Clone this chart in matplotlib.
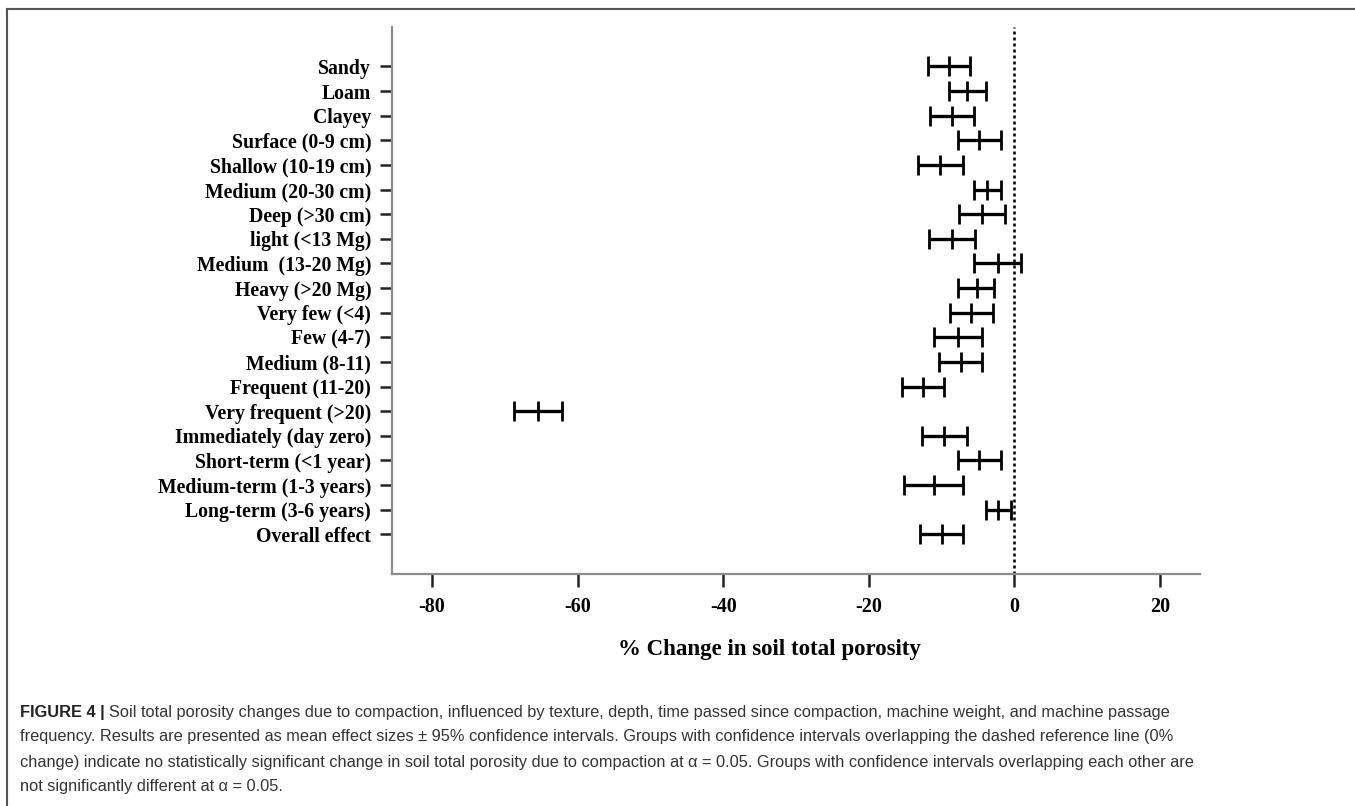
import matplotlib.pyplot as plt
from matplotlib.lines import Line2D

# groups, top to bottom
categories = ['Sandy', 'Loam', 'Clayey', 'Surface (0-9 cm)', 'Shallow (10-19 cm)',
              'Medium (20-30 cm)', 'Deep (>30 cm)', 'light (<13 Mg)', 'Medium  (13-20 Mg)',
              'Heavy (>20 Mg)', 'Very few (<4)', 'Few (4-7)', 'Medium (8-11)',
              'Frequent (11-20)', 'Very frequent (>20)', 'Immediately (day zero)',
              'Short-term (<1 year)', 'Medium-term (1-3 years)', 'Long-term (3-6 years)',
              'Overall effect']
mean = [-9.0, -6.5, -8.6, -4.85, -10.2, -3.75, -4.4, -8.6, -2.3, -5.2,
        -5.9, -7.8, -7.4, -12.6, -65.5, -9.6, -4.8, -11.1, -2.2, -10.0]
lower = [-11.9, -9.0, -11.6, -7.8, -13.2, -5.5, -7.6, -11.7, -5.5, -7.7,
         -8.9, -11.1, -10.3, -15.5, -68.8, -12.7, -7.7, -15.1, -3.85, -12.9]
upper = [-6.1, -3.9, -5.5, -1.8, -7.1, -1.9, -1.3, -5.4, 0.9, -2.75,
         -2.9, -4.5, -4.5, -9.7, -62.2, -6.5, -1.8, -7.1, -0.45, -7.1]
xticks = [-80, -60, -40, -20, 0, 20]

caption = [
    "Soil total porosity changes due to compaction, influenced by texture, depth, time passed since compaction, machine weight, and machine passage",
    "frequency. Results are presented as mean effect sizes \u00b1 95% confidence intervals. Groups with confidence intervals overlapping the dashed reference line (0%",
    "change) indicate no statistically significant change in soil total porosity due to compaction at \u03b1 = 0.05. Groups with confidence intervals overlapping each other are",
    "not significantly different at \u03b1 = 0.05.",
]

serif = ['Liberation Serif', 'DejaVu Serif']
sans = ['Liberation Sans Narrow', 'Liberation Sans', 'DejaVu Sans']

fig = plt.figure(figsize=(13.55, 8.06), dpi=100)
ax = fig.add_axes([0.2893, 0.2882, 0.8856 - 0.2893, 0.9665 - 0.2882])

y = list(range(len(categories)))
err_lo = [m - l for m, l in zip(mean, lower)]
err_hi = [u - m for m, u in zip(mean, upper)]
ax.errorbar(mean, y, xerr=[err_lo, err_hi], fmt='none', ecolor='black',
            elinewidth=2.4, capsize=7, capthick=2.0)
ax.plot(mean, y, linestyle='none', marker='|', markersize=14, markeredgewidth=2.0,
        color='black')

# reference line at 0 % change
ax.axvline(0, color='black', linestyle=(0, (1.2, 1.2)), linewidth=1.8)

ax.set_xlim(-85.5, 25.5)
ax.set_ylim(20.6, -1.6)
ax.set_yticks(y)
ax.set_yticklabels(categories, fontfamily=serif, fontweight='bold', fontsize=14.2)
ax.set_xticks(xticks)
ax.set_xticklabels([str(t) for t in xticks], fontfamily=serif, fontweight='bold',
                   fontsize=14.5)
ax.tick_params(axis='y', length=9, width=1.8, pad=6, color='#222222')
ax.tick_params(axis='x', length=9, width=1.8, pad=8, color='#222222')

for s in ['top', 'right']:
    ax.spines[s].set_visible(False)
for s in ['left', 'bottom']:
    ax.spines[s].set_color('#8c8c8c')
    ax.spines[s].set_linewidth(1.6)

fig.text(769 / 1355, 1 - 650 / 806, '% Change in soil total porosity', ha='center',
         va='center', fontfamily=serif, fontweight='bold', fontsize=16.5)

# caption below the chart
cap_y = [713, 737, 762, 786]
lab = fig.text(20 / 1355, 1 - cap_y[0] / 806, 'FIGURE 4 | ', ha='left', va='center',
               fontfamily=sans, fontweight='bold', fontsize=11.8, color='#222222')
ax.annotate(caption[0], xy=(1, 0.5), xycoords=lab, ha='left', va='center',
            fontfamily=sans, fontsize=11.8, color='#333333', annotation_clip=False)
for line, yy in zip(caption[1:], cap_y[1:]):
    fig.text(20 / 1355, 1 - yy / 806, line, ha='left', va='center',
             fontfamily=sans, fontsize=11.8, color='#333333')

# frame lines (top and left only)
fig.add_artist(Line2D([7 / 1355, 1], [1 - 9 / 806, 1 - 9 / 806], color='#555555',
                      linewidth=1.5, transform=fig.transFigure))
fig.add_artist(Line2D([7 / 1355, 7 / 1355], [0, 1 - 9 / 806], color='#555555',
                      linewidth=1.5, transform=fig.transFigure))

fig.savefig('out.png', dpi=100)
